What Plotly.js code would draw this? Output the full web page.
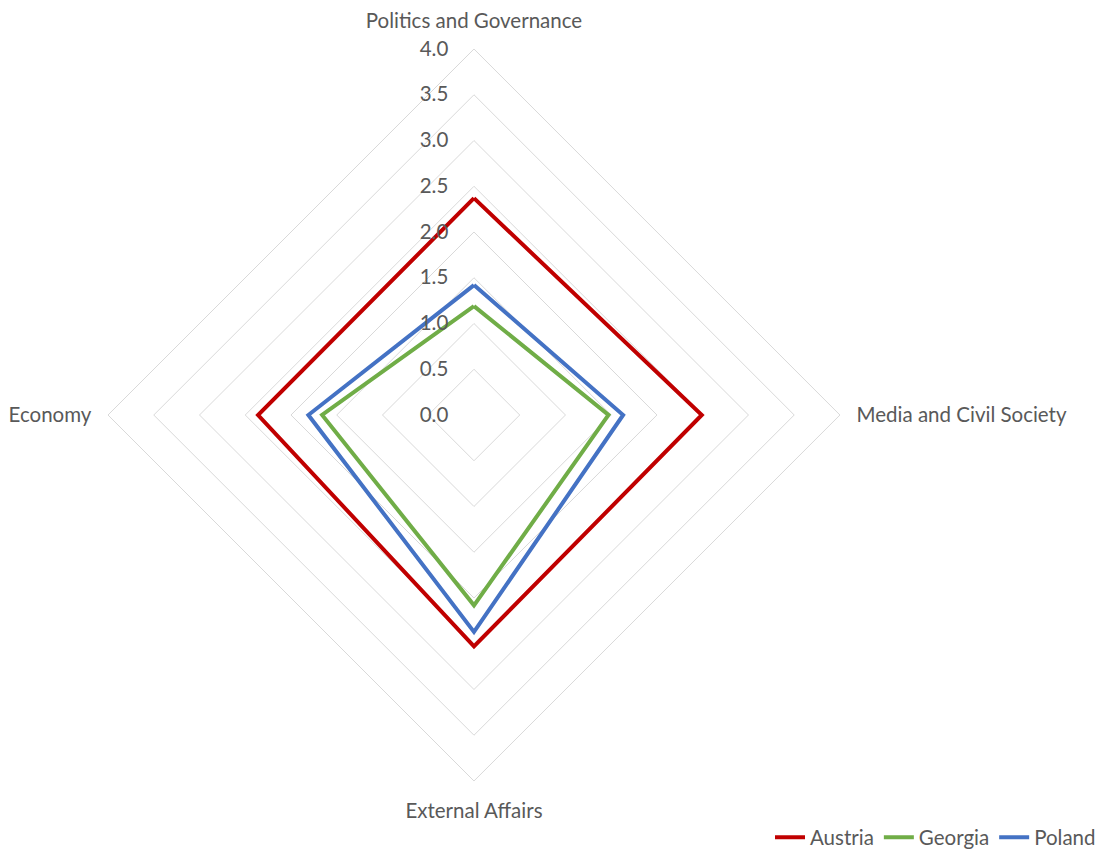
<!DOCTYPE html>
<html>
<head>
<meta charset="utf-8">
<script src="https://cdn.plot.ly/plotly-3.0.1.min.js"></script>
<style>
  html, body { margin: 0; padding: 0; background: #ffffff; }
  #chart { width: 1101px; height: 854px; }
</style>
</head>
<body>
<div id="chart"></div>
<script>
// Dimension axes, clockwise from the top
const categories = [
  "Politics and Governance",
  "Media and Civil Society",
  "External Affairs",
  "Economy"
];

// Scores per country, same order as the categories
const austria = [2.37, 2.49, 2.53, 2.36];
const georgia = [1.19, 1.47, 2.08, 1.66];
const poland  = [1.42, 1.63, 2.37, 1.81];

const seriesNames = ["Austria", "Georgia", "Poland"];
const seriesColors = ["#C00000", "#70AD47", "#4472C4"];

// Radial scale
const radialTicks = [0, 0.5, 1, 1.5, 2, 2.5, 3, 3.5, 4];

const textColor = "#595959";
const gridColor = "#d9d9d9";
const fontFamily = "Lato, 'Open Sans', sans-serif";
const fontSize = 20.5;

// close each polygon by repeating the first vertex
function closed(arr) { return arr.concat([arr[0]]); }

const traces = [austria, georgia, poland].map((vals, i) => ({
  type: "scatterpolar",
  mode: "lines",
  name: seriesNames[i],
  r: closed(vals),
  theta: closed(categories),
  line: { color: seriesColors[i], width: 4 },
  hoverinfo: "name+r+theta"
}));

const layout = {
  width: 1101,
  height: 854,
  margin: { l: 0, r: 0, t: 0, b: 0, autoexpand: false },
  paper_bgcolor: "#ffffff",
  plot_bgcolor: "#ffffff",
  font: { family: fontFamily, size: fontSize, color: textColor },
  showlegend: true,
  legend: {
    orientation: "h",
    x: 1, xanchor: "right",
    y: -0.004, yanchor: "bottom",
    font: { family: fontFamily, size: fontSize, color: textColor },
    itemwidth: 30,
    tracegroupgap: 0
  },
  polar: {
    domain: { x: [0.0981, 0.7629], y: [0.0855, 0.9426] },
    bgcolor: "#ffffff",
    gridshape: "linear",
    radialaxis: {
      range: [0, 4],
      tickvals: radialTicks,
      tickformat: ".1f",
      angle: 90,
      tickangle: 90,
      side: "counterclockwise",
      showline: false,
      ticks: "outside",
      ticklen: 18,
      tickcolor: "rgba(0,0,0,0)",
      gridcolor: gridColor,
      gridwidth: 1,
      tickfont: { family: fontFamily, size: fontSize, color: textColor }
    },
    angularaxis: {
      type: "category",
      categoryarray: categories,
      rotation: 90,
      direction: "clockwise",
      showgrid: false,
      showline: true,
      linecolor: gridColor,
      linewidth: 1,
      ticks: "outside",
      ticklen: 12,
      tickcolor: "rgba(0,0,0,0)",
      tickfont: { family: fontFamily, size: fontSize, color: textColor }
    }
  }
};

Plotly.newPlot("chart", traces, layout, { displayModeBar: false, staticPlot: true });
</script>
</body>
</html>
